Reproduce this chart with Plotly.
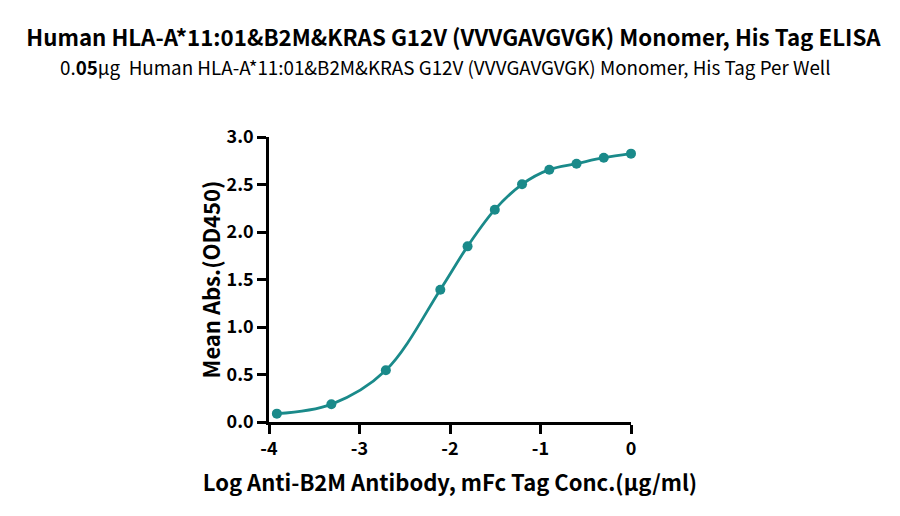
import plotly.graph_objects as go

# log concentration (ug/ml) and mean OD450
log_conc = [-3.913, -3.311, -2.709, -2.107, -1.806, -1.505, -1.204, -0.903, -0.602, -0.301, 0.0]
od450 = [0.088, 0.186, 0.544, 1.393, 1.849, 2.235, 2.502, 2.656, 2.719, 2.782, 2.825]

x_ticks = [-4, -3, -2, -1, 0]
y_ticks = [0.0, 0.5, 1.0, 1.5, 2.0, 2.5, 3.0]

cor = '#1a8a8a'
fonte = 'Noto Sans CJK SC'

fig = go.Figure()
fig.add_trace(go.Scatter(
    x=log_conc,
    y=od450,
    mode='lines+markers',
    line=dict(color=cor, width=2.8, shape='spline', smoothing=1.0),
    marker=dict(color=cor, size=10),
    cliponaxis=False,
    showlegend=False,
))

# subtitulo
fig.add_annotation(
    text='0.<b>05</b>μg  Human HLA-A*11:01&B2M&KRAS G12V (VVVGAVGVGK) Monomer, His Tag Per Well',
    xref='paper', yref='paper', x=0.487, y=1.246,
    xanchor='center', yanchor='middle', showarrow=False,
    font=dict(family=fonte, size=18.8, color='black'),
)

fig.update_layout(
    width=900,
    height=516,
    paper_bgcolor='white',
    plot_bgcolor='white',
    margin=dict(l=261, r=277, t=129, b=102),
    font=dict(family=fonte, color='black'),
    title=dict(
        text='<b>Human HLA-A*11:01&B2M&KRAS G12V (VVVGAVGVGK) Monomer, His Tag ELISA</b>',
        x=0.495,
        xanchor='center',
        y=0.942,
        yanchor='middle',
        font=dict(family=fonte, size=22.3, color='black'),
    ),
    xaxis=dict(
        range=[-4, 0],
        tickvals=x_ticks,
        ticktext=[str(v) for v in x_ticks],
        showgrid=False,
        zeroline=False,
        showline=True,
        linecolor='black',
        linewidth=2.5,
        ticks='outside',
        ticklen=9,
        tickwidth=2.5,
        tickcolor='black',
        tickfont=dict(family=fonte, size=18, color='black', weight='bold'),
        title=dict(text='<b>Log Anti-B2M Antibody, mFc Tag Conc.(μg/ml)</b>',
                   font=dict(family=fonte, size=22, color='black'), standoff=17),
    ),
    yaxis=dict(
        range=[0, 3],
        tickvals=y_ticks,
        ticktext=['%.1f' % v for v in y_ticks],
        showgrid=False,
        zeroline=False,
        showline=True,
        linecolor='black',
        linewidth=2.5,
        ticks='outside',
        ticklen=9,
        tickwidth=2.5,
        tickcolor='black',
        tickfont=dict(family=fonte, size=18, color='black', weight='bold'),
        title=dict(text='<b>Mean Abs.(OD450)</b>',
                   font=dict(family=fonte, size=22, color='black'), standoff=0),
    ),
)

fig.write_html('out.html')
